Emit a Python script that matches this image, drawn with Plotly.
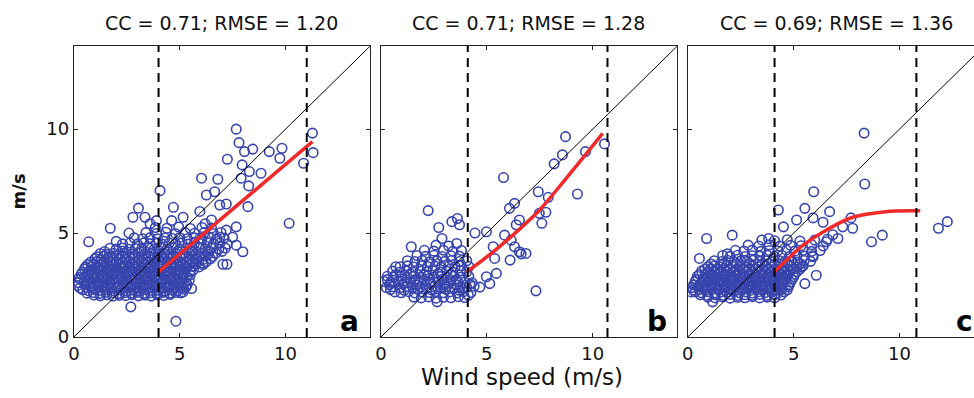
import plotly.graph_objects as go

# ---------------- data ----------------
titles = ["CC = 0.71; RMSE = 1.20", "CC = 0.71; RMSE = 1.28", "CC = 0.69; RMSE = 1.36"]
panel_letters = ["a", "b", "c"]
tick_vals = [0, 5, 10]
diag = [0, 14]

pts_a = [
    (0.95,2.02),(1.25,1.98),(1.55,2.03),(1.85,1.97),(2.15,2.01),(2.45,1.99),(2.75,2.04),(3.05,1.98),(3.35,2.02),(3.65,1.97),(3.95,2.03),(4.25,2.0),(4.55,2.05),
    (0.62,2.11),(0.92,2.14),(1.22,2.1),(1.52,2.15),(1.82,2.12),(2.12,2.09),(2.42,2.14),(2.72,2.11),(3.02,2.15),(3.32,2.1),(3.62,2.13),(3.92,2.11),(4.22,2.15),(4.52,2.1),(4.82,2.14),(5.05,2.12),
    (0.42,2.27),(0.7,2.22),(1.0,2.28),(1.3,2.24),(1.6,2.26),(1.9,2.21),(2.2,2.27),(2.5,2.23),(2.8,2.26),(3.1,2.22),(3.4,2.28),(3.7,2.24),(4.0,2.25),(4.3,2.21),(4.6,2.27),(4.9,2.23),(5.2,2.3),
    (0.28,2.36),(0.58,2.39),(0.88,2.35),(1.18,2.4),(1.48,2.37),(1.78,2.34),(2.08,2.39),(2.38,2.36),(2.68,2.4),(2.98,2.35),(3.28,2.38),(3.58,2.36),(3.88,2.4),(4.18,2.35),(4.48,2.39),(4.78,2.37),(5.08,2.36),(5.3,2.4),
    (0.18,2.48),(0.55,2.52),(0.85,2.47),(1.15,2.53),(1.45,2.49),(1.75,2.51),(2.05,2.46),(2.35,2.52),(2.65,2.48),(2.95,2.53),(3.25,2.47),(3.55,2.51),(3.85,2.49),(4.15,2.54),(4.45,2.48),(4.75,2.52),(5.05,2.47),(5.35,2.53),
    (0.22,2.61),(0.48,2.64),(0.78,2.6),(1.08,2.65),(1.38,2.62),(1.68,2.59),(1.98,2.64),(2.28,2.61),(2.58,2.65),(2.88,2.6),(3.18,2.63),(3.48,2.61),(3.78,2.65),(4.08,2.6),(4.38,2.64),(4.68,2.62),(4.98,2.6),(5.28,2.65),
    (0.3,2.77),(0.6,2.73),(0.9,2.78),(1.2,2.72),(1.5,2.76),(1.8,2.74),(2.1,2.79),(2.4,2.73),(2.7,2.77),(3.0,2.72),(3.3,2.78),(3.6,2.74),(3.9,2.76),(4.2,2.71),(4.5,2.78),(4.8,2.74),(5.1,2.77),(5.45,2.73),
    (0.25,2.86),(0.52,2.89),(0.82,2.85),(1.12,2.9),(1.42,2.87),(1.72,2.84),(2.02,2.89),(2.32,2.86),(2.62,2.9),(2.92,2.85),(3.22,2.88),(3.52,2.86),(3.82,2.9),(4.12,2.85),(4.42,2.89),(4.72,2.87),(5.02,2.85),(5.32,2.9),
    (0.35,3.02),(0.7,2.98),(1.0,3.03),(1.3,2.97),(1.6,3.01),(1.9,2.99),(2.2,3.04),(2.5,2.98),(2.8,3.02),(3.1,2.97),(3.4,3.03),(3.7,2.99),(4.0,3.01),(4.3,2.96),(4.6,3.03),(4.9,2.98),(5.2,3.02),(5.5,2.99),
    (0.4,3.11),(0.68,3.14),(0.98,3.1),(1.28,3.15),(1.58,3.12),(1.88,3.09),(2.18,3.14),(2.48,3.11),(2.78,3.15),(3.08,3.1),(3.38,3.13),(3.68,3.11),(3.98,3.15),(4.28,3.1),(4.58,3.14),(4.88,3.12),(5.18,3.1),(5.5,3.15),
    (0.5,3.27),(0.8,3.23),(1.1,3.28),(1.4,3.22),(1.7,3.26),(2.0,3.24),(2.3,3.29),(2.6,3.23),(2.9,3.27),(3.2,3.22),(3.5,3.28),(3.8,3.24),(4.1,3.26),(4.4,3.21),(4.7,3.28),(5.0,3.24),(5.3,3.27),(5.65,3.23),
    (0.55,3.36),(0.82,3.39),(1.12,3.35),(1.42,3.4),(1.72,3.37),(2.02,3.34),(2.32,3.39),(2.62,3.36),(2.92,3.4),(3.22,3.35),(3.52,3.38),(3.82,3.36),(4.12,3.4),(4.42,3.35),(4.72,3.39),(5.02,3.37),(5.32,3.35),(5.62,3.4),(5.92,3.37),
    (0.65,3.48),(0.95,3.52),(1.25,3.47),(1.55,3.53),(1.85,3.49),(2.15,3.51),(2.45,3.46),(2.75,3.52),(3.05,3.48),(3.35,3.53),(3.65,3.47),(3.95,3.51),(4.25,3.49),(4.55,3.54),(4.85,3.48),(5.15,3.52),(5.45,3.47),(5.75,3.53),(6.1,3.49),
    (0.8,3.61),(1.1,3.64),(1.4,3.6),(1.7,3.65),(2.0,3.62),(2.3,3.59),(2.6,3.64),(2.9,3.61),(3.2,3.65),(3.5,3.6),(3.8,3.63),(4.1,3.61),(4.4,3.65),(4.7,3.6),(5.0,3.64),(5.3,3.62),(5.6,3.6),(5.9,3.65),(6.25,3.62),
    (1.0,3.77),(1.3,3.73),(1.6,3.78),(1.9,3.72),(2.2,3.76),(2.5,3.74),(2.8,3.79),(3.1,3.73),(3.4,3.77),(3.7,3.72),(4.0,3.78),(4.3,3.74),(4.6,3.76),(4.9,3.71),(5.2,3.78),(5.5,3.74),(5.8,3.77),(6.1,3.73),(6.45,3.76),
    (1.1,3.86),(1.4,3.89),(1.7,3.85),(2.0,3.9),(2.3,3.87),(2.6,3.84),(2.9,3.89),(3.2,3.86),(3.5,3.9),(3.8,3.85),(4.1,3.88),(4.4,3.86),(4.7,3.9),(5.0,3.85),(5.3,3.89),(5.6,3.87),(5.9,3.85),(6.2,3.9),(6.55,3.87),
    (1.25,4.02),(1.55,3.98),(1.85,4.03),(2.15,3.97),(2.45,4.01),(2.75,3.99),(3.05,4.04),(3.35,3.98),(3.65,4.02),(3.95,3.97),(4.25,4.03),(4.55,3.99),(4.85,4.01),(5.15,3.96),(5.45,4.03),(5.75,3.98),(6.05,4.02),(6.35,3.99),(6.7,4.03),
    (1.45,4.11),(2.3,4.14),(3.2,4.1),(4.0,4.15),(4.9,4.12),(5.6,4.1),(6.4,4.14),(7.0,4.12),
    (1.7,4.27),(2.0,4.23),(2.3,4.28),(2.6,4.22),(2.9,4.26),(3.2,4.24),(3.5,4.29),(3.8,4.23),(4.1,4.27),(4.4,4.22),(4.7,4.28),(5.0,4.24),(5.3,4.26),(5.6,4.21),(5.9,4.28),(6.2,4.24),(6.5,4.27),(6.85,4.23),(7.15,4.28),
    (2.3,4.48),(2.65,4.52),(3.0,4.47),(3.3,4.53),(3.6,4.49),(3.9,4.51),(4.2,4.46),(4.5,4.52),(4.8,4.48),(5.1,4.53),(5.4,4.47),(5.7,4.51),(6.0,4.49),(6.3,4.54),(6.6,4.48),(6.9,4.52),(7.25,4.47),
    (2.85,4.77),(3.25,4.73),(3.6,4.78),(3.95,4.72),(4.3,4.76),(4.65,4.74),(5.0,4.79),(5.35,4.73),(5.7,4.77),(6.05,4.72),(6.4,4.78),(6.75,4.74),(7.1,4.76),
    (3.4,5.02),(3.9,4.98),(4.35,5.04),(4.8,4.97),(5.25,5.03),(5.7,4.99),(6.15,5.02),(6.6,4.97),(6.95,5.03),
    (3.85,5.27),(4.4,5.23),(4.95,5.29),(5.5,5.22),(6.05,5.27),(6.5,5.24),
    (2.0,4.6),(2.6,5.0),(3.6,5.45),(3.9,5.6),(4.62,5.6),(5.16,5.76),(5.95,6.04),(6.2,5.45),
    (7.67,10.0),(7.8,9.35),(8.06,8.92),(8.45,9.04),(7.25,8.55),(7.95,8.28),(8.29,7.96),(8.84,7.88),(7.9,7.64),(9.23,8.92),
    (9.83,9.08),(9.73,8.6),(11.27,9.81),(11.3,8.87),(10.85,8.36),(10.17,5.47),(6.03,7.64),(6.8,7.59),(4.07,7.04),(8.26,7.27),
    (8.22,6.27),(6.26,6.83),(6.65,6.99),(6.89,6.35),(7.2,6.4),(7.67,5.3),(7.98,4.1),(7.67,4.42),(7.04,3.5),(7.23,3.5),
    (6.1,3.56),(4.7,6.24),(3.05,6.2),(3.36,5.76),(2.79,5.76),(1.72,5.23),(0.7,4.58),(2.69,1.45),(4.82,0.76),(5.56,2.33),
    (5.16,2.17),(5.95,4.74),(6.5,5.63),(6.89,4.8),(7.2,5.14),(7.5,4.8),
]

pts_b = [
    (1.55,1.92),(1.9,1.88),(2.25,1.93),(2.6,1.87),(2.95,1.91),(3.3,1.89),(3.65,1.94),(3.95,1.9),
    (0.65,2.17),(0.95,2.13),(1.3,2.18),(1.6,2.12),(1.95,2.16),(2.3,2.14),(2.6,2.19),(2.95,2.13),(3.25,2.17),(3.6,2.12),(3.9,2.18),(4.25,2.14),
    (0.45,2.28),(1.1,2.25),(1.75,2.29),(2.4,2.26),(3.05,2.3),(3.7,2.25),
    (0.25,2.38),(0.55,2.42),(0.9,2.37),(1.2,2.43),(1.5,2.39),(1.85,2.41),(2.15,2.36),(2.5,2.42),(2.8,2.38),(3.1,2.43),(3.45,2.37),(3.75,2.41),(4.05,2.39),(4.4,2.44),
    (0.4,2.51),(1.05,2.54),(1.7,2.5),(2.35,2.55),(3.0,2.52),(3.6,2.5),(4.2,2.54),
    (0.15,2.67),(0.45,2.63),(0.8,2.68),(1.1,2.62),(1.4,2.66),(1.75,2.64),(2.05,2.69),(2.35,2.63),(2.7,2.67),(3.0,2.62),(3.3,2.68),(3.65,2.64),(3.95,2.66),(4.3,2.61),
    (0.3,2.76),(0.95,2.79),(1.6,2.75),(2.25,2.8),(2.9,2.77),(3.55,2.75),
    (0.3,2.92),(0.6,2.88),(0.95,2.93),(1.25,2.87),(1.55,2.91),(1.9,2.89),(2.2,2.94),(2.5,2.88),(2.85,2.92),(3.15,2.87),(3.45,2.93),(3.8,2.89),(4.15,2.91),
    (0.7,3.01),(1.4,3.04),(2.05,3.0),(2.7,3.05),(3.3,3.02),
    (0.55,3.17),(0.9,3.13),(1.2,3.18),(1.5,3.12),(1.85,3.16),(2.15,3.14),(2.45,3.19),(2.8,3.13),(3.1,3.17),(3.4,3.12),(3.75,3.18),(4.05,3.14),
    (0.9,3.38),(1.25,3.42),(1.55,3.37),(1.9,3.43),(2.2,3.39),(2.55,3.41),(2.85,3.36),(3.2,3.42),(3.5,3.38),(3.8,3.43),(4.15,3.39),
    (1.25,3.67),(1.6,3.63),(1.95,3.68),(2.3,3.62),(2.65,3.66),(3.0,3.64),(3.35,3.69),(3.7,3.63),(4.05,3.67),
    (1.7,3.92),(2.1,3.88),(2.5,3.93),(2.9,3.87),(3.3,3.91),(3.7,3.89),
    (2.05,4.17),(2.5,4.13),(2.95,4.18),(3.4,4.12),(3.8,4.16),
    (2.6,4.42),(3.2,4.38),
    (8.72,9.64),(8.57,8.76),(8.18,8.33),(9.66,8.92),(10.56,9.29),(5.79,7.67),(7.43,6.99),(7.9,6.72),(9.28,6.88),(6.07,6.19),
    (6.31,6.43),(7.48,5.95),(7.79,6.0),(6.54,5.63),(6.39,5.4),(7.6,5.47),(5.84,4.9),(6.15,4.66),(6.31,4.34),(6.54,4.1),
    (6.85,4.02),(6.62,4.0),(6.1,3.7),(7.32,2.22),(2.23,6.08),(2.73,5.27),(3.35,5.55),(3.61,5.7),(3.71,5.4),(1.43,4.34),
    (0.7,3.38),(4.98,5.06),(4.44,5.0),(5.3,4.34),(5.37,3.78),(5.45,3.06),(4.98,2.9),(5.14,2.57),(4.13,2.01),(4.67,2.4),
    (2.65,1.69),(3.58,4.5),(2.88,4.74),
]

pts_c = [
    (0.95,1.92),(1.3,1.88),(1.65,1.93),(2.0,1.87),(2.35,1.91),(2.7,1.89),(3.05,1.94),(3.4,1.88),(3.75,1.92),(4.1,1.89),
    (0.6,2.03),(0.95,2.0),(1.3,2.04),(1.65,2.01),(2.0,2.05),(2.35,2.0),(2.7,2.03),(3.05,2.01),(3.4,2.05),(3.75,2.0),(4.1,2.04),(4.4,2.02),
    (0.35,2.17),(0.65,2.13),(0.95,2.18),(1.25,2.12),(1.55,2.16),(1.85,2.14),(2.15,2.19),(2.45,2.13),(2.75,2.17),(3.05,2.12),(3.35,2.18),(3.65,2.14),(3.95,2.16),(4.25,2.11),(4.55,2.17),
    (0.25,2.26),(0.55,2.29),(0.85,2.25),(1.15,2.3),(1.45,2.27),(1.75,2.24),(2.05,2.29),(2.35,2.26),(2.65,2.3),(2.95,2.25),(3.25,2.28),(3.55,2.26),(3.85,2.3),(4.15,2.25),(4.45,2.29),(4.7,2.27),
    (0.22,2.38),(0.5,2.42),(0.8,2.37),(1.1,2.43),(1.4,2.39),(1.7,2.41),(2.0,2.36),(2.3,2.42),(2.6,2.38),(2.9,2.43),(3.2,2.37),(3.5,2.41),(3.8,2.39),(4.1,2.44),(4.4,2.38),(4.75,2.42),
    (0.28,2.51),(0.58,2.54),(0.88,2.5),(1.18,2.55),(1.48,2.52),(1.78,2.49),(2.08,2.54),(2.38,2.51),(2.68,2.55),(2.98,2.5),(3.28,2.53),(3.58,2.51),(3.88,2.55),(4.18,2.5),(4.48,2.54),(4.8,2.52),
    (0.35,2.67),(0.65,2.63),(0.95,2.68),(1.25,2.62),(1.55,2.66),(1.85,2.64),(2.15,2.69),(2.45,2.63),(2.75,2.67),(3.05,2.62),(3.35,2.68),(3.65,2.64),(3.95,2.66),(4.25,2.61),(4.55,2.68),(4.85,2.64),
    (0.4,2.76),(0.72,2.79),(1.02,2.75),(1.32,2.8),(1.62,2.77),(1.92,2.74),(2.22,2.79),(2.52,2.76),(2.82,2.8),(3.12,2.75),(3.42,2.78),(3.72,2.76),(4.02,2.8),(4.32,2.75),(4.62,2.79),(4.92,2.77),
    (0.45,2.92),(0.8,2.88),(1.1,2.93),(1.4,2.87),(1.7,2.91),(2.0,2.89),(2.3,2.94),(2.6,2.88),(2.9,2.92),(3.2,2.87),(3.5,2.93),(3.8,2.89),(4.1,2.91),(4.4,2.86),(4.7,2.93),(5.0,2.89),
    (0.55,3.01),(0.85,3.04),(1.15,3.0),(1.45,3.05),(1.75,3.02),(2.05,2.99),(2.35,3.04),(2.65,3.01),(2.95,3.05),(3.25,3.0),(3.55,3.03),(3.85,3.01),(4.15,3.05),(4.45,3.0),(4.75,3.04),(5.05,3.02),
    (0.65,3.17),(0.95,3.13),(1.25,3.18),(1.55,3.12),(1.85,3.16),(2.15,3.14),(2.45,3.19),(2.75,3.13),(3.05,3.17),(3.35,3.12),(3.65,3.18),(3.95,3.14),(4.25,3.16),(4.55,3.11),(4.85,3.18),(5.15,3.14),
    (0.8,3.26),(1.1,3.29),(1.4,3.25),(1.7,3.3),(2.0,3.27),(2.3,3.24),(2.6,3.29),(2.9,3.26),(3.2,3.3),(3.5,3.25),(3.8,3.28),(4.1,3.26),(4.4,3.3),(4.7,3.25),(5.0,3.29),(5.3,3.27),
    (0.95,3.38),(1.25,3.42),(1.55,3.37),(1.85,3.43),(2.15,3.39),(2.45,3.41),(2.75,3.36),(3.05,3.42),(3.35,3.38),(3.65,3.43),(3.95,3.37),(4.25,3.41),(4.55,3.39),(4.85,3.44),(5.15,3.38),(5.45,3.42),
    (1.1,3.51),(1.7,3.54),(2.3,3.5),(2.9,3.55),(3.5,3.52),(4.1,3.5),(4.7,3.54),(5.3,3.52),
    (1.25,3.67),(1.6,3.63),(1.9,3.68),(2.2,3.62),(2.5,3.66),(2.8,3.64),(3.1,3.69),(3.4,3.63),(3.7,3.67),(4.0,3.62),(4.3,3.68),(4.6,3.64),(4.9,3.66),(5.2,3.61),(5.5,3.68),(5.8,3.64),
    (1.65,3.92),(2.0,3.88),(2.35,3.93),(2.7,3.87),(3.05,3.91),(3.4,3.89),(3.75,3.94),(4.1,3.88),(4.45,3.92),(4.8,3.87),(5.15,3.93),(5.5,3.89),(5.9,3.91),
    (2.25,4.17),(2.65,4.13),(3.05,4.18),(3.45,4.12),(3.85,4.16),(4.25,4.14),(4.65,4.19),(5.05,4.13),(5.45,4.17),(5.85,4.12),(6.25,4.16),
    (2.85,4.42),(3.35,4.38),(3.85,4.43),(4.35,4.37),(4.85,4.41),(5.35,4.39),(5.85,4.44),(6.4,4.38),
    (3.5,4.67),(4.1,4.63),(4.7,4.68),(5.3,4.62),(6.0,4.66),(6.6,4.7),
    (8.33,9.81),(8.36,7.36),(11.84,5.23),(12.26,5.55),(9.19,4.9),(8.68,4.58),(5.95,6.99),(4.28,6.11),(5.53,6.19),(6.7,6.03),
    (4.52,5.3),(5.14,5.63),(5.92,5.73),(6.39,5.52),(7.71,5.73),(7.79,5.23),(7.32,5.3),(6.85,4.92),(6.54,4.58),(7.09,4.74),
    (5.92,3.86),(6.07,2.97),(5.53,2.57),(5.37,3.37),(5.3,3.53),(0.89,4.74),(2.1,4.9),(0.55,3.78),(1.87,4.0),(3.82,4.74),
    (0.16,2.17),(1.17,1.69),
]

fit_a_x = [4.0, 11.27]
fit_a_y = [3.13, 9.4]
fit_b_x = [4.05, 5.0, 6.23, 7.48, 8.72, 9.97, 10.47]
fit_b_y = [3.13, 3.85, 4.9, 6.1, 7.6, 9.16, 9.8]
fit_c_x = [4.08, 4.67, 5.45, 6.54, 7.79, 9.35, 10.98]
fit_c_y = [3.13, 3.7, 4.42, 5.14, 5.76, 6.03, 6.07]

thresholds = [[4.0, 11.0], [4.1, 10.7], [4.1, 10.8]]

# ---------------- layout geometry (px) ----------------
W, H = 974, 398
M_T, M_B = 46, 61
panel_px = [(68.3, 366.0), (377.3, 675.0), (686.0, 974.0)]
letter_right = [357, 667, 975]
px_per_unit = 21.3
title_centers = [217, 526, 836]

FONT = "DejaVu Sans"
DOT = "#3744ad"
FRAME = "#222222"

pts_all = [pts_a, pts_b, pts_c]
fits = [(fit_a_x, fit_a_y), (fit_b_x, fit_b_y), (fit_c_x, fit_c_y)]

fig = go.Figure()
for i in range(3):
    xa = "x" if i == 0 else f"x{i+1}"
    ya = "y" if i == 0 else f"y{i+1}"
    xs = [p[0] for p in pts_all[i]]
    ys = [p[1] for p in pts_all[i]]
    fig.add_trace(go.Scatter(x=xs, y=ys, mode="markers", xaxis=xa, yaxis=ya,
                             marker=dict(symbol="circle-open", size=9.5, color=DOT,
                                         line=dict(width=1.6, color=DOT)),
                             showlegend=False))
    fig.add_trace(go.Scatter(x=diag, y=diag, mode="lines", xaxis=xa, yaxis=ya,
                             line=dict(color="black", width=1), showlegend=False))
    fig.add_trace(go.Scatter(x=fits[i][0], y=fits[i][1], mode="lines", xaxis=xa, yaxis=ya,
                             line=dict(color="#f02a2a", width=3.5, shape="spline"),
                             showlegend=False))
    for t in thresholds[i]:
        fig.add_shape(type="line", xref=xa, yref=f"{ya} domain", x0=t, x1=t, y0=0, y1=1,
                      line=dict(color="black", width=2, dash="9px,6px"))

axis_common = dict(showline=True, linecolor=FRAME, linewidth=1, ticks="inside",
                   ticklen=4, tickcolor=FRAME, showgrid=False, zeroline=False,
                   tickvals=tick_vals, tickfont=dict(family=FONT, size=18, color="#111"))

layout = dict(width=W, height=H, margin=dict(l=0, r=0, t=M_T, b=M_B),
              paper_bgcolor="white", plot_bgcolor="white", showlegend=False)
for i in range(3):
    l, r = panel_px[i]
    xr = (r - l) / px_per_unit
    xk = "xaxis" if i == 0 else f"xaxis{i+1}"
    yk = "yaxis" if i == 0 else f"yaxis{i+1}"
    ya = "y" if i == 0 else f"y{i+1}"
    xa = "x" if i == 0 else f"x{i+1}"
    layout[xk] = dict(axis_common, domain=[l / W, r / W], range=[0, xr], anchor=ya,
                      mirror="allticks")
    layout[yk] = dict(axis_common, domain=[0, 1], range=[0, 14], anchor=xa,
                      mirror=("allticks" if i < 2 else False),
                      showticklabels=(i == 0))
fig.update_layout(**layout)

ann = []
for i in range(3):
    ann.append(dict(text=titles[i], xref="paper", yref="paper", x=title_centers[i] / W, y=1,
                    yshift=23, xanchor="center", yanchor="middle", showarrow=False,
                    font=dict(family=FONT, size=19, color="#111")))
    ann.append(dict(text=f"<b>{panel_letters[i]}</b>", xref="paper", yref="paper",
                    x=letter_right[i] / W, y=0, xanchor="right", yanchor="bottom",
                    yshift=-3, showarrow=False,
                    font=dict(family=FONT, size=28, color="black")))
ann.append(dict(text="<b>m/s</b>", xref="paper", yref="paper", x=13 / W, y=0.5,
                textangle=-90, xanchor="center", yanchor="middle", showarrow=False,
                font=dict(family=FONT, size=18, color="#111")))
ann.append(dict(text="Wind speed (m/s)", xref="paper", yref="paper", x=519 / W, y=0,
                yshift=-40, xanchor="center", yanchor="middle", showarrow=False,
                font=dict(family=FONT, size=23, color="#111")))
fig.update_layout(annotations=ann)

fig.write_html("out.html", config={"displayModeBar": False, "staticPlot": True},
               post_script="document.body.style.margin='0';document.body.style.overflow='hidden';")
